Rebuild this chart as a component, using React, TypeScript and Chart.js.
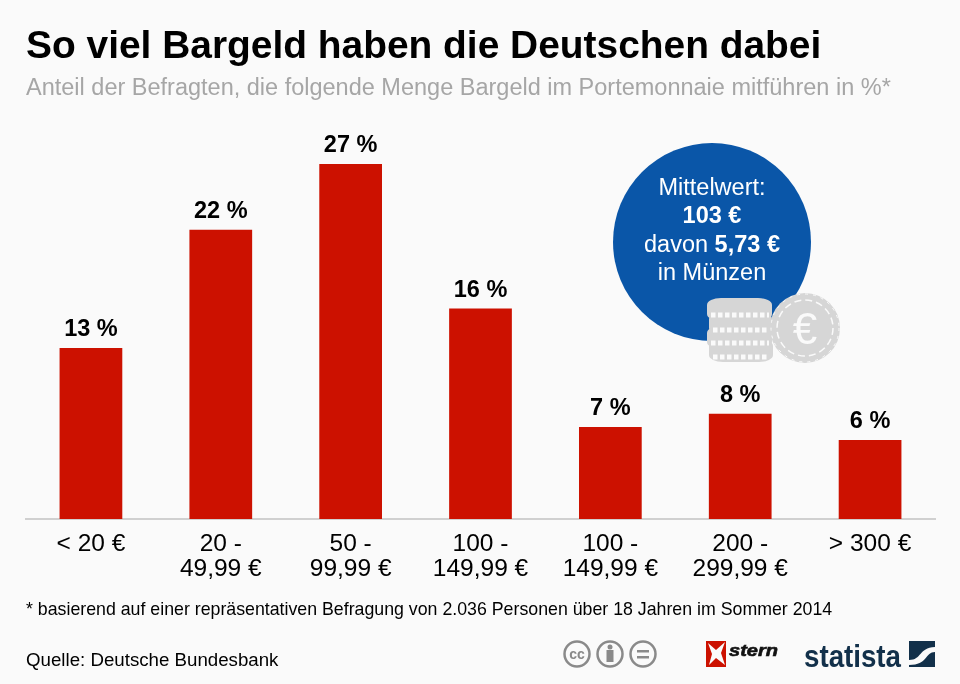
import { useEffect, useRef } from 'react'
import Chart from 'chart.js/auto'
import type { Plugin } from 'chart.js'

const categories = [
  ['< 20 €'],
  ['20 -', '49,99 €'],
  ['50 -', '99,99 €'],
  ['100 -', '149,99 €'],
  ['100 -', '149,99 €'],
  ['200 -', '299,99 €'],
  ['> 300 €'],
]
const shares = [13, 22, 27, 16, 7, 8, 6]

const FONT = '"Liberation Sans", Arial, sans-serif'

// value labels above the bars
const valueLabels: Plugin<'bar'> = {
  id: 'valueLabels',
  afterDatasetsDraw(chart) {
    const { ctx } = chart
    const meta = chart.getDatasetMeta(0)
    ctx.save()
    ctx.font = `bold 23.5px ${FONT}`
    ctx.fillStyle = '#000'
    ctx.textAlign = 'center'
    ctx.textBaseline = 'alphabetic'
    meta.data.forEach((bar, i) => {
      ctx.fillText(`${shares[i]} %`, bar.x, bar.y - 12)
    })
    ctx.restore()
  },
}

function Coins() {
  const stack = [
    { x: 709, y: 339, w: 64 },
    { x: 707, y: 326, w: 65 },
    { x: 709, y: 312, w: 63 },
    { x: 707, y: 298, w: 65 },
  ]
  const dashes = [315, 330, 343, 357]
  return (
    <svg width="960" height="684" style={{ position: 'absolute', left: 0, top: 0 }}>
      {stack.map((c, i) => (
        <rect key={i} x={c.x} y={c.y} width={c.w} height={23} rx={14} ry={7} fill="#d6d6d6" />
      ))}
      {dashes.map((y, i) => (
        <line key={y} x1={i % 2 ? 713 : 711} x2={769} y1={y} y2={y} stroke="#fafafa" strokeWidth={5} strokeDasharray="4.5 2.5" />
      ))}
      <circle cx={805} cy={328} r={35} fill="#d6d6d6" />
      <circle cx={805} cy={328} r={34} fill="none" stroke="#fafafa" strokeWidth={1} strokeDasharray="3 5" />
      <circle cx={805} cy={328} r={28} fill="none" stroke="#fafafa" strokeWidth={1.5} strokeDasharray="7 4" />
      <text x={805} y={344} textAnchor="middle" fontFamily={FONT} fontSize={44} fill="#fafafa">€</text>
    </svg>
  )
}

function Logos() {
  return (
    <svg width="960" height="684" style={{ position: 'absolute', left: 0, top: 0 }}>
      {[577, 610, 643].map((cx) => (
        <circle key={cx} cx={cx} cy={654} r={12.5} fill="none" stroke="#8a8a8a" strokeWidth={2.5} />
      ))}
      <text x={577} y={659} textAnchor="middle" fontFamily={FONT} fontWeight="bold" fontSize={14} fill="#8a8a8a">cc</text>
      <circle cx={610} cy={647} r={2.5} fill="#8a8a8a" />
      <rect x={606.5} y={650} width={7} height={12} fill="#8a8a8a" />
      <rect x={637} y={650} width={12} height={2.5} fill="#8a8a8a" />
      <rect x={637} y={656} width={12} height={2.5} fill="#8a8a8a" />
      <rect x={706} y={641} width={20} height={26} fill="#cc1100" />
      <polygon points="708,643 716,650 725,642 721,653 725,665 716,658 709,665 712,654" fill="#fafafa" />
      <text x={729} y={656} fontFamily={FONT} fontWeight="bold" fontStyle="italic" fontSize={17} fill="#111" stroke="#111" strokeWidth={0.6} textLength={49} lengthAdjust="spacingAndGlyphs">stern</text>
      <text x={804} y={667} fontFamily={FONT} fontWeight="bold" fontSize={31} fill="#12304a" textLength={97} lengthAdjust="spacingAndGlyphs">statista</text>
      <rect x={909} y={641} width={26} height={26} fill="#12304a" />
      <path d="M909 660 C922 660 918 648 935 647 L935 652 C925 652 928 665 909 665 Z" fill="#fafafa" />
    </svg>
  )
}

export default function App() {
  const canvasRef = useRef<HTMLCanvasElement>(null)

  useEffect(() => {
    document.body.style.margin = '0'
    document.body.style.background = '#fafafa'
    if (!canvasRef.current) return
    const chart = new Chart(canvasRef.current, {
      type: 'bar',
      data: {
        labels: categories,
        datasets: [
          {
            data: shares,
            backgroundColor: '#cc1100',
            barPercentage: 0.483,
            categoryPercentage: 1,
          },
        ],
      },
      options: {
        animation: false,
        responsive: false,
        layout: { padding: { left: 26, right: 25, top: 124.5, bottom: 0 } },
        plugins: { legend: { display: false }, tooltip: { enabled: false } },
        scales: {
          x: {
            afterFit: (scale: any) => {
              scale.height = 165
            },
            grid: { display: false, drawTicks: false },
            border: { color: '#d0d0d0', width: 2 },
            ticks: {
              color: '#000',
              font: { family: FONT, size: 24.5, lineHeight: 1 },
              padding: 13,
              maxRotation: 0,
              autoSkip: false,
            },
          },
          y: { display: false, min: 0, max: 30 },
        },
      },
      plugins: [valueLabels],
    })
    return () => chart.destroy()
  }, [])

  const abs = (left: number, top: number, style: any = {}) => ({
    position: 'absolute' as const,
    left,
    top,
    fontFamily: FONT,
    whiteSpace: 'nowrap' as const,
    ...style,
  })

  return (
    <div style={{ position: 'relative', width: 960, height: 684, overflow: 'hidden', background: '#fafafa' }}>
      <canvas ref={canvasRef} width={960} height={684} style={{ position: 'absolute', left: 0, top: 0 }} />
      <div style={abs(26, 21, { fontSize: 38.9, fontWeight: 'bold', color: '#000', lineHeight: '48px' })}>
        So viel Bargeld haben die Deutschen dabei
      </div>
      <div style={abs(26, 72, { fontSize: 23.5, color: '#a6a6a6', lineHeight: '30px' })}>
        Anteil der Befragten, die folgende Menge Bargeld im Portemonnaie mitführen in %*
      </div>
      <div style={{ position: 'absolute', left: 613, top: 143, width: 198, height: 198, borderRadius: '50%', background: '#0a56a8' }} />
      <div style={abs(613, 173, { width: 198, textAlign: 'center', color: '#fff', fontSize: 23.5, lineHeight: '28.4px' })}>
        <div>Mittelwert:</div>
        <div><b>103 €</b></div>
        <div>davon <b>5,73 €</b></div>
        <div>in Münzen</div>
      </div>
      <Coins />
      <div style={abs(26, 597, { fontSize: 17.75, color: '#000', lineHeight: '24px' })}>
        * basierend auf einer repräsentativen Befragung von 2.036 Personen über 18 Jahren im Sommer 2014
      </div>
      <div style={abs(26, 648, { fontSize: 18.7, color: '#000', lineHeight: '24px' })}>
        Quelle: Deutsche Bundesbank
      </div>
      <Logos />
    </div>
  )
}
